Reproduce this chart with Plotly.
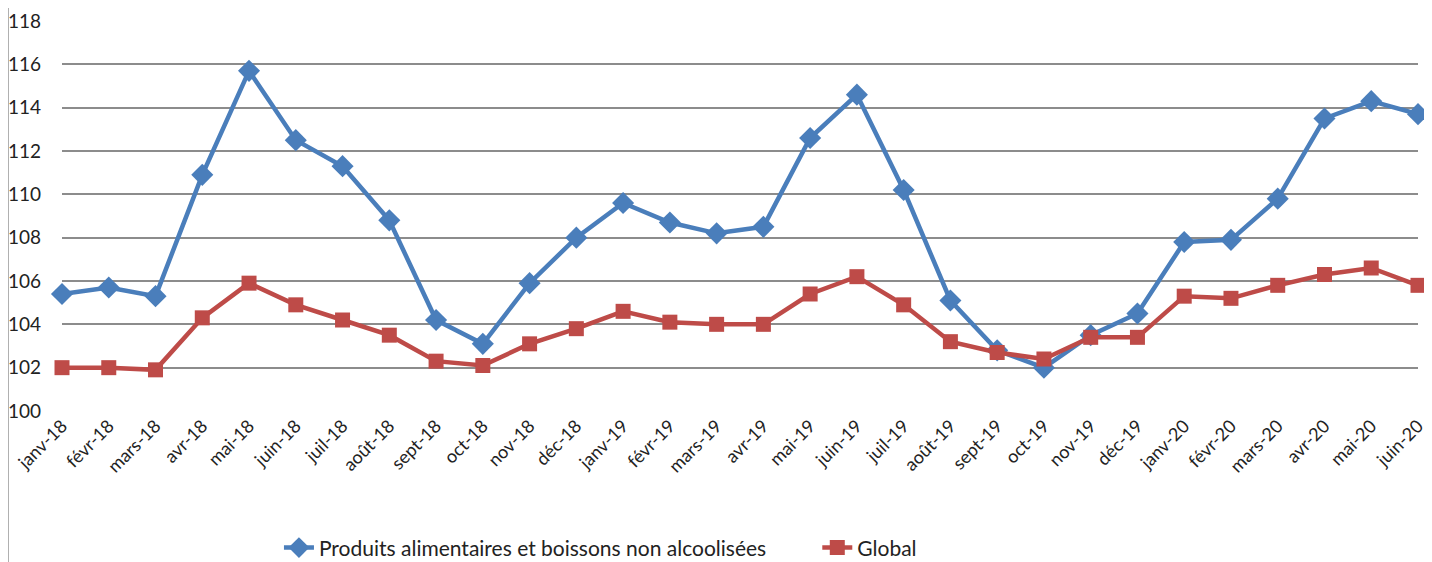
import plotly.graph_objects as go

months = ["janv-18","févr-18","mars-18","avr-18","mai-18","juin-18","juil-18","août-18",
          "sept-18","oct-18","nov-18","déc-18","janv-19","févr-19","mars-19","avr-19",
          "mai-19","juin-19","juil-19","août-19","sept-19","oct-19","nov-19","déc-19",
          "janv-20","févr-20","mars-20","avr-20","mai-20","juin-20"]

alimentaires = [105.4, 105.7, 105.3, 110.9, 115.7, 112.5, 111.3, 108.8,
                104.2, 103.1, 105.9, 108.0, 109.6, 108.7, 108.2, 108.5,
                112.6, 114.6, 110.2, 105.1, 102.8, 102.0, 103.5, 104.5,
                107.8, 107.9, 109.8, 113.5, 114.3, 113.7]

global_idx = [102.0, 102.0, 101.9, 104.3, 105.9, 104.9, 104.2, 103.5,
              102.3, 102.1, 103.1, 103.8, 104.6, 104.1, 104.0, 104.0,
              105.4, 106.2, 104.9, 103.2, 102.7, 102.4, 103.4, 103.4,
              105.3, 105.2, 105.8, 106.3, 106.6, 105.8]

name_a = "Produits alimentaires et boissons non alcoolisées"
name_g = "Global"

FONT = "Lato, 'Open Sans', sans-serif"

fig = go.Figure()
fig.add_trace(go.Scatter(
    x=months, y=alimentaires, name=name_a, mode="lines+markers",
    line=dict(color="#4A7EBB", width=4.5),
    marker=dict(symbol="diamond", size=17, color="#4A7EBB"),
    cliponaxis=False, legend="legend",
))
fig.add_trace(go.Scatter(
    x=months, y=global_idx, name=name_g, mode="lines+markers",
    line=dict(color="#BE4B48", width=4.5),
    marker=dict(symbol="square", size=15, color="#BE4B48"),
    cliponaxis=False, legend="legend2",
))

fig.update_layout(
    width=1424, height=554,
    margin=dict(l=54, r=14, t=13, b=151, autoexpand=False),
    paper_bgcolor="white", plot_bgcolor="white",
    font=dict(family=FONT, size=18, color="#222222"),
    showlegend=True,
    legend=dict(orientation="h", x=0.160, xanchor="left", y=-0.351, yanchor="middle",
                font=dict(size=21, family=FONT), bgcolor="rgba(0,0,0,0)"),
    legend2=dict(orientation="h", x=0.557, xanchor="left", y=-0.351, yanchor="middle",
                 font=dict(size=21, family=FONT), bgcolor="rgba(0,0,0,0)"),
    xaxis=dict(type="category", range=[0, 29], tickangle=-45, showgrid=False,
               showline=False, ticks="", tickfont=dict(size=18), automargin=False),
    yaxis=dict(range=[100, 118], dtick=2, showgrid=True, gridcolor="#8C8C8C",
               gridwidth=1.8, zeroline=False, showline=False, ticks="",
               tickfont=dict(size=19), ticklabelstandoff=20, automargin=False),
    shapes=[dict(type="line", xref="paper", yref="paper",
                 x0=-0.0398, x1=-0.0398, y0=-0.39, y1=1.04,
                 line=dict(color="#9A9A9A", width=1.5))],
)

fig.write_html("out.html")
